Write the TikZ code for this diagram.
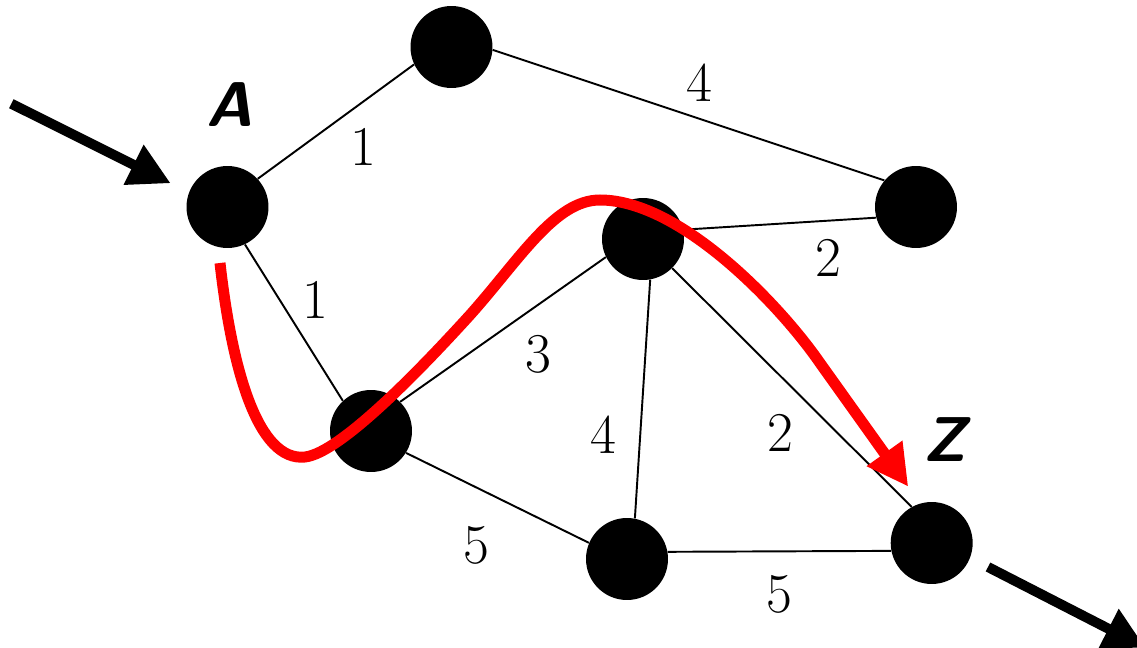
\documentclass[tikz,border=0pt]{standalone}
\usetikzlibrary{arrows.meta,backgrounds}
\begin{document}
\begin{tikzpicture}[x=0.02cm,y=-0.02cm,
  vtx/.style={circle,fill=black,inner sep=0pt,minimum size=1.64cm},
  edge/.style={draw=black,line width=1.1pt},
  lbl/.style={font=\fontsize{32}{38}\selectfont},
  nm/.style={font=\sffamily\bfseries\fontsize{36}{40}\selectfont},
  bigarrow/.style={line width=0.2cm,-{Triangle[length=0.83cm,width=0.84cm]}},
  redarrow/.style={red,line width=0.22cm,-{Triangle[length=0.82cm,width=0.82cm]}}]
\clip (0,0) rectangle (1137,648);
% vertices
\node[vtx] (A) at (227.5,207) {};
\node[vtx] (T) at (451.5,47) {};
\node[vtx] (R) at (916,207) {};
\node[vtx] (C) at (643,239) {};
\node[vtx] (M) at (371,431) {};
\node[vtx] (B) at (627,559) {};
\node[vtx] (Z) at (931.7,543) {};
% edges (behind vertices)
\begin{scope}[on background layer]
\draw[edge] (A.43) -- (T.205);
\draw[edge] (A.-65) -- (M.133);
\draw[edge] (M.45) -- (C.206);
\draw[edge] (M.-32) -- (B.157);
\draw[edge] (C.13) -- (R.195);
\draw[edge] (T.-4) -- (R.140);
\draw[edge] (C.-80) -- (B.79);
\draw[edge] (C.-45) -- (Z.119);
\draw[edge] (B.10) -- (Z.191);
\end{scope}
% edge labels
\node[lbl] (l1) at (363,147) {1};
\node[lbl] (l2) at (699,83) {4};
\node[lbl] (l3) at (828,258) {2};
\node[lbl] (l4) at (315,300) {1};
\node[lbl] (l5) at (538,354) {3};
\node[lbl] (l6) at (603,435) {4};
\node[lbl] (l7) at (780,433) {2};
\node[lbl] (l8) at (476,545) {5};
\node[lbl] (l9) at (779,594) {5};
% vertex names
\node[nm] (nA) at (230,105) {\itshape A};
\node[nm] (nZ) at (945,440) {\itshape Z};
% red path
\coordinate (r0) at (220,263);
\coordinate (r1) at (305,457);
\coordinate (r2) at (470,315);
\coordinate (r3) at (600,200);
\coordinate (r4) at (820,363);
\coordinate (r5) at (908.3,486.7);
\draw[redarrow] (r0) .. controls (232,370) and (258,462) .. (r1)
  .. controls (340,453) and (420,370) .. (r2)
  .. controls (520,259) and (555,200) .. (r3)
  .. controls (680,200) and (780,305) .. (r4)
  -- (r5);
% in / out arrows
\coordinate (inS) at (11.3,103.7);
\coordinate (inE) at (170.7,183.3);
\coordinate (outS) at (988,567);
\coordinate (outE) at (1145.4,647.7);
\draw[bigarrow] (inS) -- (inE);
\draw[bigarrow] (outS) -- (outE);
\end{tikzpicture}
\end{document}
